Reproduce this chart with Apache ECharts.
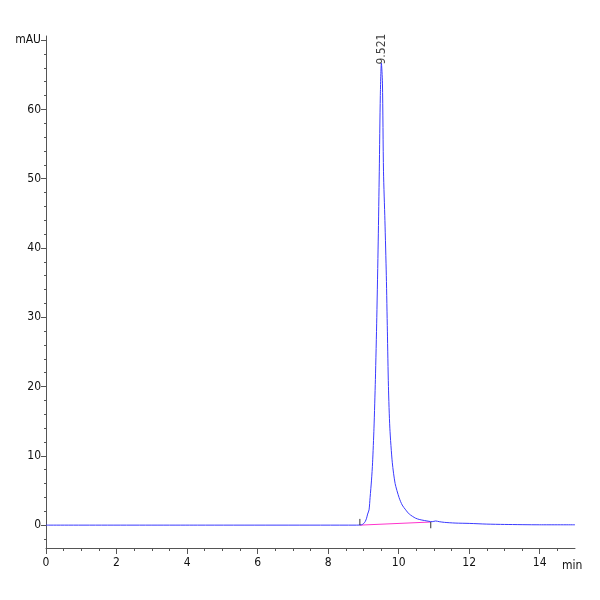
<!DOCTYPE html>
<html>
<head>
<meta charset="utf-8">
<script src="https://cdn.jsdelivr.net/npm/echarts@6/dist/echarts.min.js"></script>
<style>html,body{margin:0;padding:0;background:#fff}#c{width:600px;height:600px}</style>
</head>
<body>
<div id="c"></div>
<script>
// Chromatogram signal (time in min, absorbance in mAU)
const times  = [0, 4.3, 8.8, 8.95, 9.0, 9.05, 9.09, 9.12, 9.16, 9.19, 9.23, 9.26, 9.30, 9.34, 9.38, 9.42, 9.45, 9.48, 9.51, 9.54, 9.57, 9.61, 9.65, 9.68, 9.71, 9.75, 9.82, 9.90, 10.01, 10.10, 10.20, 10.30, 10.48, 10.60, 10.86, 10.95, 11.05, 11.15, 11.30, 11.60, 12.0, 12.5, 13.0, 14.0, 15.0];
const signal = [0, 0, 0, 0.05, 0.2, 0.5, 1.0, 1.6, 2.2, 4.0, 6.5, 9.0, 14.0, 21.0, 30.0, 41.0, 51.0, 62.0, 66.7, 63.8, 51.0, 44.0, 36.0, 28.0, 20.0, 14.0, 9.0, 6.0, 4.0, 2.9, 2.2, 1.6, 1.0, 0.8, 0.55, 0.5, 0.6, 0.5, 0.4, 0.3, 0.25, 0.15, 0.1, 0.05, 0.05];
// Integration baseline
const baseTimes  = [8.90, 10.91];
const baseValues = [0.0, 0.45];
// Integration markers
const markerTimes = [8.90, 10.91];
const markerLow = [0.0, 0.45];
const markerHigh = [0.9, -0.45];
// Peak annotation
const peakTime = 9.521;
const peakHeight = 66.7;
const peakText = '9.521';
// Axis ticks
const xLabelValues = [0, 2, 4, 6, 8, 10, 12, 14];
const xMinorValues = [0,0.5,1,1.5,2,2.5,3,3.5,4,4.5,5,5.5,6,6.5,7,7.5,8,8.5,9,9.5,10,10.5,11,11.5,12,12.5,13,13.5,14,14.5];
const yLabelValues = [0, 10, 20, 30, 40, 50, 60, 70];
const yMinorValues = [-2,0,2,4,6,8,10,12,14,16,18,20,22,24,26,28,30,32,34,36,38,40,42,44,46,48,50,52,54,56,58,60,62,64,66,68,70];
const yUnit = 'mAU';
const xUnit = 'min';

const font = "'Liberation Sans Narrow','Arial Narrow','DejaVu Sans Condensed','Liberation Sans',Arial,sans-serif";
const axisCol = '#555';
const chart = echarts.init(document.getElementById('c'), null, {renderer: 'canvas'});
const xr = {min: 0, max: 15}, yr = {min: -3.3, max: 70.6};
chart.setOption({
  animation: false,
  grid: {left: 46, right: 25, top: 36, bottom: 52},
  xAxis: [
    {type: 'value', min: xr.min, max: xr.max, position: 'bottom',
     axisLine: {show: true, onZero: false, lineStyle: {color: axisCol, width: 1}},
     axisTick: {show: true, length: 6, customValues: xLabelValues, lineStyle: {color: axisCol}},
     axisLabel: {show: true, customValues: xLabelValues, margin: 9, color: '#111', fontFamily: font, fontSize: 12},
     splitLine: {show: false},
     name: xUnit, nameLocation: 'end', nameGap: -13,
     nameTextStyle: {color: '#111', fontFamily: font, fontSize: 12, verticalAlign: 'top', padding: [12, 0, 0, 0]}},
    {type: 'value', min: xr.min, max: xr.max, position: 'bottom',
     axisLine: {show: false, onZero: false},
     axisTick: {show: true, length: 3, customValues: xMinorValues, lineStyle: {color: axisCol}},
     axisLabel: {show: false}, splitLine: {show: false}}
  ],
  yAxis: [
    {type: 'value', min: yr.min, max: yr.max, position: 'left',
     axisLine: {show: true, onZero: false, lineStyle: {color: axisCol, width: 1}},
     axisTick: {show: true, length: 5, customValues: yLabelValues, lineStyle: {color: axisCol}},
     axisLabel: {show: true, customValues: yLabelValues, margin: 5, color: '#111', fontFamily: font, fontSize: 12,
       formatter: v => v === 70 ? yUnit : String(v)},
     splitLine: {show: false}},
    {type: 'value', min: yr.min, max: yr.max, position: 'left',
     axisLine: {show: false, onZero: false},
     axisTick: {show: true, length: 2, customValues: yMinorValues, lineStyle: {color: axisCol}},
     axisLabel: {show: false}, splitLine: {show: false}}
  ],
  series: [
    {type: 'line', name: 'baseline', xAxisIndex: 0, yAxisIndex: 0,
     data: baseTimes.map((t, i) => [t, baseValues[i]]),
     showSymbol: false, lineStyle: {color: '#ff33cc', width: 1}, z: 3},
    {type: 'line', name: 'signal', xAxisIndex: 0, yAxisIndex: 0,
     data: times.map((t, i) => [t, signal[i]]),
     smooth: 0.25, showSymbol: false, lineStyle: {color: '#3a3aff', width: 1}, z: 4},
    ...markerTimes.map((t, i) => ({type: 'line', xAxisIndex: 0, yAxisIndex: 0,
      data: [[t, markerLow[i]], [t, markerHigh[i]]], showSymbol: false,
      lineStyle: {color: '#333', width: 1}, z: 5})),
    {type: 'scatter', xAxisIndex: 0, yAxisIndex: 0, data: [[peakTime, peakHeight]],
     symbolSize: 1, itemStyle: {color: 'rgba(0,0,0,0)'},
     label: {show: true, formatter: peakText, position: 'top', rotate: 90, distance: -2,
       color: '#111', fontFamily: font, fontSize: 12, align: 'left', verticalAlign: 'middle'}, z: 6}
  ]
});
</script>
</body>
</html>
